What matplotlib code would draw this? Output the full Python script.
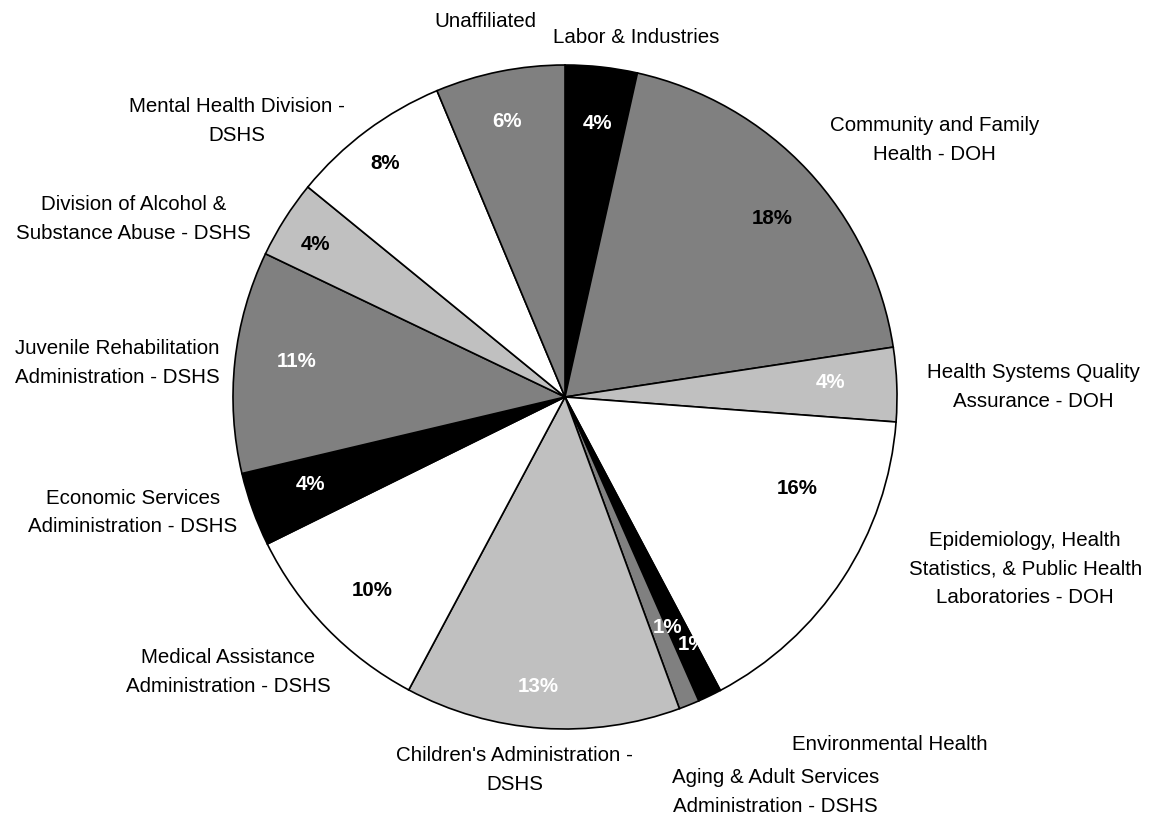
import matplotlib.pyplot as plt

# --- Dati ---
categories = [
    "Labor & Industries",
    "Community and Family\nHealth - DOH",
    "Health Systems Quality\nAssurance - DOH",
    "Epidemiology, Health\nStatistics, & Public Health\nLaboratories - DOH",
    "Environmental Health",
    "Aging & Adult Services\nAdministration - DSHS",
    "Children's Administration -\nDSHS",
    "Medical Assistance\nAdministration - DSHS",
    "Economic Services\nAdiministration - DSHS",
    "Juvenile Rehabilitation\nAdministration - DSHS",
    "Division of Alcohol &\nSubstance Abuse - DSHS",
    "Mental Health Division -\nDSHS",
    "Unaffiliated",
]
shares = [3.5, 19.1, 3.6, 16.05, 1.15, 1.0, 13.4, 9.9, 3.6, 10.8, 3.8, 7.8, 6.3]
pct_labels = ["4%", "18%", "4%", "16%", "1%", "1%", "13%", "10%", "4%", "11%", "4%", "8%", "6%"]

# --- Stile ---
BLACK, GRAY, SILVER, WHITE = "#000000", "#808080", "#c0c0c0", "#ffffff"
slice_colors = [BLACK, GRAY, SILVER, WHITE, BLACK, GRAY, SILVER, WHITE,
                BLACK, GRAY, SILVER, WHITE, GRAY]
pct_colors = ["white", "black", "white", "black", "white", "white", "white",
              "black", "white", "white", "black", "black", "white"]
# posizioni (unita' del raggio) delle percentuali, come le mette Excel
pct_pos = [(0.099, 0.825), (0.623, 0.539), (0.801, 0.045), (0.699, -0.277),
           (0.385, -0.745), (0.310, -0.693), (-0.081, -0.873), (-0.581, -0.584),
           (-0.768, -0.265), (-0.807, 0.108), (-0.753, 0.458), (-0.542, 0.702),
           (-0.175, 0.831)]
# posizioni delle etichette esterne
label_pos = [(0.214, 1.084), (1.114, 0.774), (1.410, 0.030), (1.386, -0.518),
             (0.979, -1.048), (0.633, -1.190), (-0.151, -1.123), (-1.015, -0.828),
             (-1.301, -0.348), (-1.349, 0.102), (-1.300, 0.536), (-0.988, 0.831),
             (-0.24, 1.13)]

plt.rcParams['font.family'] = ['Liberation Sans', 'DejaVu Sans']

W, H = 1151, 817
fig = plt.figure(figsize=(W / 100, H / 100), dpi=100)
cx, cy, r = 565, 397, 332
ax = fig.add_axes([(cx - r) / W, (H - cy - r) / H, 2 * r / W, 2 * r / H])

wedges, texts, autotexts = ax.pie(
    shares, colors=slice_colors, startangle=90, counterclock=False,
    radius=1.0, autopct="%1.0f%%", pctdistance=0.81,
    wedgeprops=dict(edgecolor="black", linewidth=1.2),
)
for t, lab, col, pos in zip(autotexts, pct_labels, pct_colors, pct_pos):
    t.set_text(lab)
    t.set_color(col)
    t.set_position(pos)
    t.set_fontsize(14.8)
    t.set_fontweight("bold")

for name, (x, y) in zip(categories, label_pos):
    ax.text(x, y, name, ha="center", va="center", fontsize=14.8,
            linespacing=1.66, multialignment="center")

ax.set_xlim(-1, 1)
ax.set_ylim(-1, 1)
ax.set_aspect("equal")
ax.axis("off")

fig.savefig("out.png", dpi=100)
